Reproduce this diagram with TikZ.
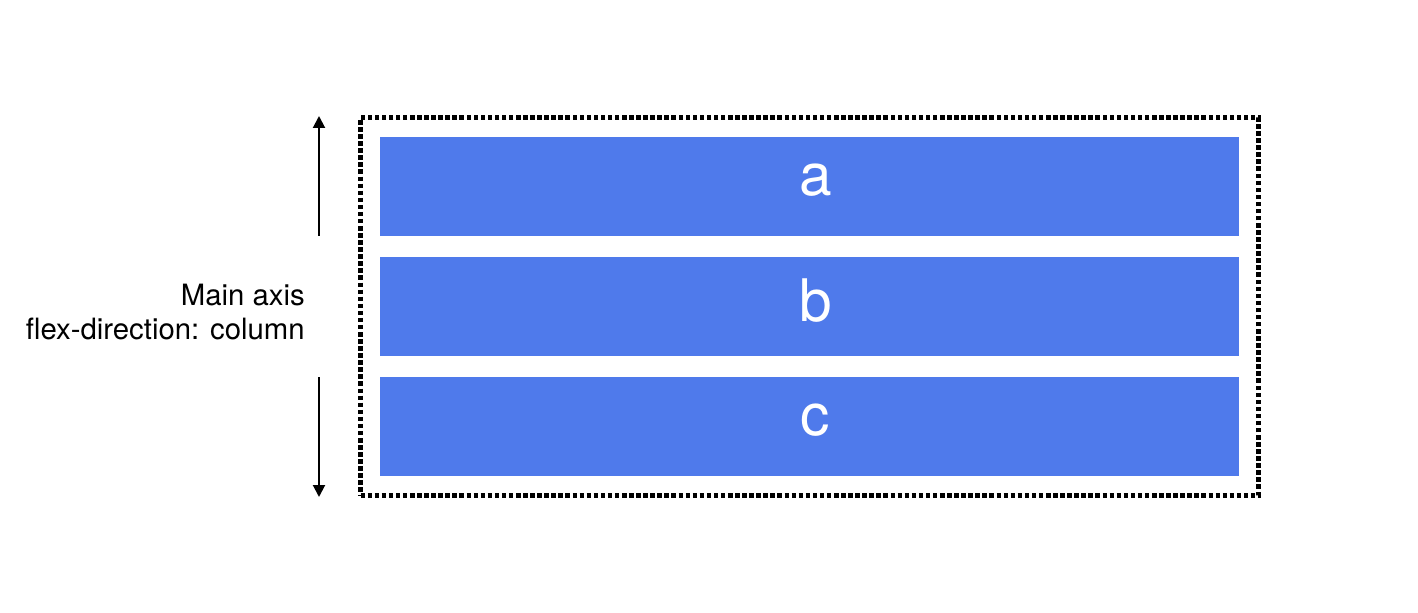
\documentclass[tikz,border=0pt]{standalone}
\usepackage{fontspec}
\setmainfont{TeX Gyre Heros}
\usetikzlibrary{arrows.meta}
\definecolor{itemblue}{HTML}{4F7AEB}
\tikzset{
  item/.style={fill=itemblue,text=white,minimum width=644.25pt,minimum height=74.25pt,
    inner sep=0pt,text depth=10pt,font=\fontsize{44}{46}\selectfont,
    execute at begin node=\hspace*{9pt}},
  container/.style={draw,line width=3.75pt,dash pattern=on 3.4pt off 1.9pt,
    minimum width=673.5pt,minimum height=283.5pt,inner sep=0pt},
  axis/.style={line width=1.5pt,-{Triangle[length=9pt,width=9pt]}}
}
\begin{document}
\begin{tikzpicture}[x=0.75pt,y=-0.75pt]
\useasboundingbox (0,0) rectangle (1418,613);
\node[container] (box) at (809.5,306.5) {};
\node[item] (a) at (809.5,186.5) {a};
\node[item] (b) at (809.5,306.5) {b};
\node[item] (c) at (809.5,426.5) {c};
\node[anchor=east,align=right,inner sep=0pt,font=\fontsize{22}{26}\selectfont] (label) at (305,312) {Main axis\\flex-direction: column};
\coordinate (upstart) at (319,236);
\coordinate (upend) at (319,116);
\coordinate (downstart) at (319,377);
\coordinate (downend) at (319,497);
\path
  (upstart) edge[axis] (upend)
  (downstart) edge[axis] (downend)
;
\end{tikzpicture}
\end{document}
